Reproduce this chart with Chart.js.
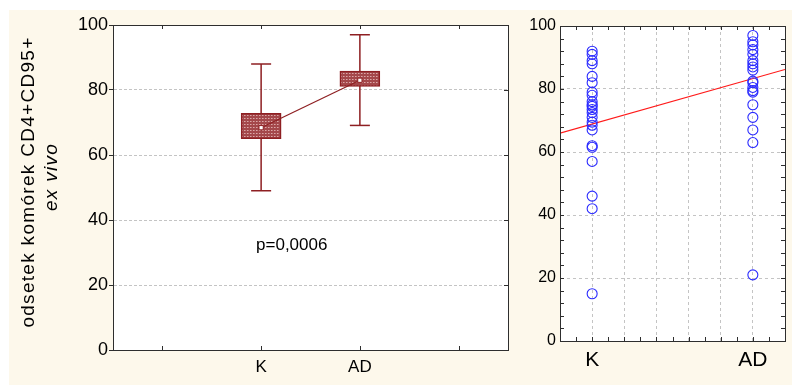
<!DOCTYPE html>
<html lang="pl">
<head>
<meta charset="utf-8" />
<title>CD4+CD95+ ex vivo</title>
<script src="https://cdn.jsdelivr.net/npm/chart.js"></script>
<style>
	body { margin: 0; background: #fff; }
	#bg { position: absolute; left: 9px; top: 10px; width: 783px; height: 375px; background: #fdf8eb; }
	#boxWrap { position: absolute; left: 0; top: 0; width: 520px; height: 385px; }
	#dotWrap { position: absolute; left: 520px; top: 0; width: 272px; height: 385px; }
</style>
</head>
<body>
<div id="bg"></div>
<div id="boxWrap"><canvas id="boxChart"></canvas></div>
<div id="dotWrap"><canvas id="dotChart"></canvas></div>

<script>
// groups
var groups = ["K", "AD"];
// box plot (left): box = lower/upper, whiskers, centre point
var boxLow = [65.0, 81.1];
var boxHigh = [72.8, 85.8];
var whiskLow = [49.0, 69.1];
var whiskHigh = [88.0, 97.0];
var centre = [68.4, 83.0];
// raw values (right)
var kVals = [92, 91, 89, 88, 84, 82, 79, 78, 76, 75, 74.5, 73.5, 72.5, 71, 69.5, 68.5, 67, 62, 61.5, 57, 46, 42, 15];
var adVals = [97, 95, 94, 92.5, 91, 89, 88, 87, 86, 82.5, 82, 80.5, 79.5, 79, 75, 71, 67, 63, 21];
// fitted line (right)
var fitX = [0.8, 2.2];
var fitY = [66.0, 86.2];
var pText = "p=0,0006";
var yTitle = "odsetek komórek CD4+CD95+";
var yTitle2 = "ex vivo";

var FONT = 'Arial, "Liberation Sans", sans-serif';
var DARKRED = "#8e1f22";
var FRAME = "#2e2e2e";
var GRID = "#c4c4c4";

// hatched fill for boxes
function hatch() {
	var c = document.createElement("canvas");
	c.width = 3; c.height = 3;
	var g = c.getContext("2d");
	g.fillStyle = "#a4484b"; g.fillRect(0, 0, 3, 3);
	g.fillStyle = "#dca8a8"; g.fillRect(1, 1, 1, 1);
	g.fillStyle = "#c27c7e"; g.fillRect(2, 1, 1, 1);
	return g.createPattern(c, "repeat");
}

// white plot background + frame + inward ticks
function framePlugin(xTickVals, yTickVals) {
	return {
		id: "frame",
		beforeDraw: function (chart) {
			var a = chart.chartArea, ctx = chart.ctx;
			ctx.save();
			ctx.fillStyle = "#fff";
			ctx.fillRect(a.left, a.top, a.right - a.left, a.bottom - a.top);
			ctx.restore();
		},
		afterDraw: function (chart) {
			var a = chart.chartArea, ctx = chart.ctx;
			var xs = chart.scales.x, ys = chart.scales.y;
			ctx.save();
			ctx.strokeStyle = FRAME;
			ctx.lineWidth = 1;
			ctx.strokeRect(Math.round(a.left) + 0.5, Math.round(a.top) + 0.5, Math.round(a.right - a.left), Math.round(a.bottom - a.top));
			ctx.beginPath();
			xTickVals.forEach(function (v) {
				var px = Math.round(xs.getPixelForValue(v)) + 0.5;
				ctx.moveTo(px, a.bottom); ctx.lineTo(px, a.bottom - 4);
				ctx.moveTo(px, a.top); ctx.lineTo(px, a.top + 4);
			});
			yTickVals.forEach(function (v) {
				var py = Math.round(ys.getPixelForValue(v)) + 0.5;
				ctx.moveTo(a.right, py); ctx.lineTo(a.right - 4, py);
			});
			ctx.stroke();
			ctx.restore();
		}
	};
}

function gridColor(edgeLo, edgeHi) {
	return function (c) {
		var v = c.tick ? c.tick.value : null;
		if (v === null || Math.abs(v - edgeLo) < 1e-6 || Math.abs(v - edgeHi) < 1e-6) return "rgba(0,0,0,0)";
		return GRID;
	};
}

// ---------- left: box plot ----------
var pos = groups.map(function (g, i) { return i + 2; });
var whiskData = [];
pos.forEach(function (x, i) {
	whiskData.push({ x: x, y: whiskLow[i] }, { x: x, y: whiskHigh[i] }, { x: x + 0.5, y: null });
});
var capData = [];
pos.forEach(function (x, i) {
	capData.push({ x: x, y: whiskLow[i] }, { x: x, y: whiskHigh[i] });
});

function leftLabel(v) {
	for (var i = 0; i < pos.length; i++) {
		if (Math.abs(Number(v) - pos[i]) < 1e-6) return groups[i];
	}
	return "";
}

var textPlugin = {
	id: "texts",
	afterDraw: function (chart) {
		var ctx = chart.ctx;
		var xs = chart.scales.x, ys = chart.scales.y;
		ctx.save();
		ctx.fillStyle = "#000";
		ctx.font = "17px " + FONT;
		ctx.textAlign = "center";
		ctx.textBaseline = "middle";
		ctx.fillText(pText, xs.getPixelForValue(2.31), ys.getPixelForValue(32.3));
		// x labels under the boxes
		ctx.textBaseline = "top";
		pos.forEach(function (x, i) {
			ctx.fillText(groups[i], xs.getPixelForValue(x), chart.chartArea.bottom + 9);
		});
		// y title, two lines, rotated
		ctx.translate(29, 182);
		ctx.rotate(-Math.PI / 2);
		ctx.textBaseline = "middle";
		ctx.letterSpacing = "1.3px";
		ctx.font = "19px " + FONT;
		ctx.fillText(yTitle, 0, 0);
		ctx.font = "italic 19px " + FONT;
		ctx.fillText(yTitle2, 5, 23);
		ctx.restore();
	}
};

new Chart(document.getElementById("boxChart"), {
	type: "bar",
	data: {
		datasets: [
			{
				type: "line",
				data: whiskData,
				borderColor: DARKRED,
				borderWidth: 1.5,
				pointRadius: 0,
				spanGaps: false,
				order: 4
			},
			{
				type: "line",
				data: capData,
				showLine: false,
				pointStyle: "line",
				pointRadius: 10,
				pointBorderColor: DARKRED,
				pointBorderWidth: 1.5,
				order: 3
			},
			{
				type: "bar",
				data: pos.map(function (x, i) { return { x: x, y: [boxLow[i], boxHigh[i]] }; }),
				backgroundColor: hatch(),
				borderColor: DARKRED,
				borderWidth: 1.5,
				borderSkipped: false,
				barThickness: 40,
				order: 2
			},
			{
				type: "line",
				data: pos.map(function (x, i) { return { x: x, y: centre[i] }; }),
				borderColor: DARKRED,
				borderWidth: 1.2,
				pointStyle: "rect",
				pointRadius: 3,
				pointBackgroundColor: "#fff",
				pointBorderColor: DARKRED,
				pointBorderWidth: 1,
				order: 1
			}
		]
	},
	options: {
		responsive: true,
		maintainAspectRatio: false,
		animation: false,
		events: [],
		layout: { padding: { top: 25, right: 12, left: 0, bottom: 0 } },
		plugins: { legend: { display: false }, tooltip: { enabled: false } },
		scales: {
			x: {
				type: "linear",
				min: 0.5,
				max: 4.5,
				offset: false,
				afterFit: function (s) { s.height = 35; },
				ticks: { display: false, stepSize: 1 },
				grid: { display: false, offset: false },
				border: { color: FRAME, width: 1 }
			},
			y: {
				min: 0,
				max: 100,
				afterFit: function (s) { s.width = 113; },
				ticks: {
					stepSize: 20,
					padding: 1,
					color: "#000",
					font: { family: FONT, size: 18 }
				},
				grid: { color: gridColor(0, 100), tickColor: FRAME, tickLength: 4 },
				border: { color: FRAME, width: 1, dash: [3, 2] }
			}
		}
	},
	plugins: [framePlugin([1, 2, 3, 4], [20, 40, 60, 80]), textPlugin]
});

// ---------- right: raw values ----------
var minorPlugin = {
	id: "minor",
	afterDraw: function (chart) {
		var a = chart.chartArea, ctx = chart.ctx;
		var xs = chart.scales.x, ys = chart.scales.y;
		ctx.save();
		ctx.strokeStyle = FRAME;
		ctx.lineWidth = 1;
		ctx.beginPath();
		for (var i = 0; i <= 14; i++) {
			var px = Math.round(xs.getPixelForValue(0.8 + i * 0.1)) + 0.5;
			ctx.moveTo(px, a.bottom); ctx.lineTo(px, a.bottom - 4);
			ctx.moveTo(px, a.top); ctx.lineTo(px, a.top + 4);
		}
		for (var j = 0; j <= 25; j++) {
			var py = Math.round(ys.getPixelForValue(j * 4)) + 0.5;
			ctx.moveTo(a.left, py); ctx.lineTo(a.left + 4, py);
			ctx.moveTo(a.right, py); ctx.lineTo(a.right - 4, py);
		}
		ctx.stroke();
		ctx.restore();
	}
};

new Chart(document.getElementById("dotChart"), {
	type: "scatter",
	data: {
		datasets: [
			{
				data: kVals.map(function (v) { return { x: 1, y: v }; }),
				pointStyle: "circle",
				pointRadius: 5,
				pointBorderColor: "#2a2aff",
				pointBackgroundColor: "rgba(0,0,0,0)",
				pointBorderWidth: 1.1,
				order: 1
			},
			{
				data: adVals.map(function (v) { return { x: 2, y: v }; }),
				pointStyle: "circle",
				pointRadius: 5,
				pointBorderColor: "#2a2aff",
				pointBackgroundColor: "rgba(0,0,0,0)",
				pointBorderWidth: 1.1,
				order: 1
			},
			{
				type: "line",
				data: fitX.map(function (x, i) { return { x: x, y: fitY[i] }; }),
				borderColor: "#ff1a1a",
				borderWidth: 1.2,
				pointRadius: 0,
				order: 2
			}
		]
	},
	options: {
		responsive: true,
		maintainAspectRatio: false,
		animation: false,
		events: [],
		layout: { padding: { top: 26, right: 6, left: 0, bottom: 0 } },
		plugins: { legend: { display: false }, tooltip: { enabled: false } },
		scales: {
			x: {
				type: "linear",
				min: 0.8,
				max: 2.2,
				afterFit: function (s) { s.height = 44; },
				ticks: {
					stepSize: 0.2,
					autoSkip: false,
					maxRotation: 0,
					padding: 7,
					color: "#000",
					font: { family: FONT, size: 21 },
					callback: function (v) {
						if (Math.abs(v - 1) < 1e-6) return groups[0];
						if (Math.abs(v - 2) < 1e-6) return groups[1];
						return "";
					}
				},
				grid: { color: gridColor(0.8, 2.2), drawTicks: false },
				border: { color: FRAME, width: 1, dash: [3, 3] }
			},
			y: {
				min: 0,
				max: 100,
				afterFit: function (s) { s.width = 40; },
				ticks: {
					stepSize: 20,
					padding: 4,
					color: "#000",
					font: { family: FONT, size: 16 }
				},
				grid: { color: gridColor(0, 100), drawTicks: false },
				border: { color: FRAME, width: 1, dash: [3, 3] }
			}
		}
	},
	plugins: [framePlugin([], []), minorPlugin]
});
</script>
</body>
</html>
